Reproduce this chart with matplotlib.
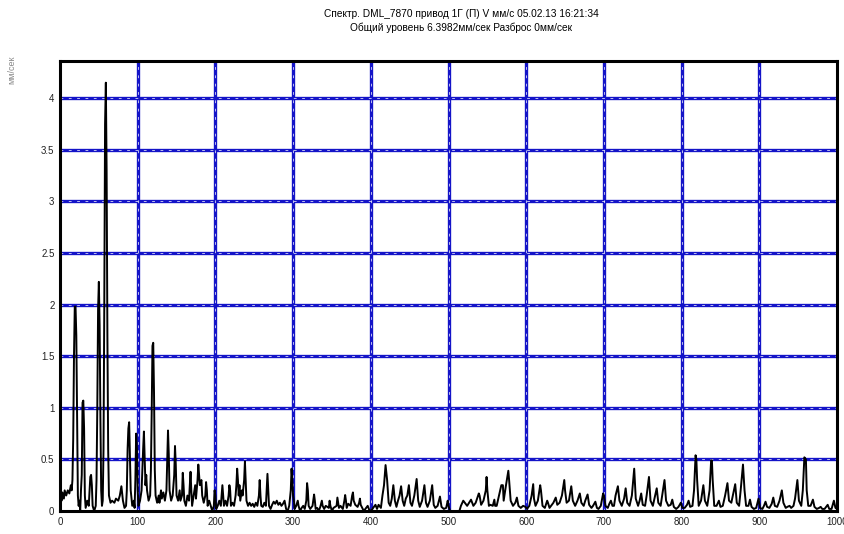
import matplotlib.pyplot as plt
import numpy as np

title_1 = "Спектр. DML_7870 привод 1Г (П) V мм/с 05.02.13 16:21:34"
title_2 = "Общий уровень 6.3982мм/сек Разброс 0мм/сек"
y_label = "мм/сек"

x_ticks = [0, 100, 200, 300, 400, 500, 600, 700, 800, 900, 1000]
y_ticks = [0, 0.5, 1, 1.5, 2, 2.5, 3, 3.5, 4]
y_tick_labels = ["0", "0.5", "1", "1.5", "2", "2.5", "3", "3.5", "4"]

# spectrum vertices (Hz, mm/s)
freq = [
    0, 1, 2, 3, 5, 6, 8, 10, 12, 14, 15, 16, 17, 18, 19, 20, 21, 22, 23, 24, 25, 26, 27, 28, 29, 30,
    31, 32, 33, 35, 37, 38, 39, 40, 41, 42, 44, 46, 47, 48, 49, 50, 51, 52, 53, 54, 55, 56, 57, 58,
    59, 60, 61, 62, 63, 65, 67, 70, 72, 75, 77, 79, 81, 83, 85, 86, 87, 88, 89, 90, 91, 93, 95, 96,
    97, 98, 99, 100, 101, 103, 105, 106, 107, 108, 109, 110, 111, 112, 114, 116, 117, 118, 119, 120,
    121, 122, 123, 125, 127, 128, 130, 131, 133, 135, 137, 138, 139, 140, 141, 143, 145, 147, 148,
    149, 150, 152, 154, 155, 157, 158, 159, 160, 162, 164, 166, 167, 168, 169, 170, 172, 174, 175,
    177, 178, 179, 180, 182, 183, 185, 187, 188, 189, 190, 192, 194, 196, 198,
    199, 200, 201, 203, 205, 207, 208, 209, 210, 211, 213, 215, 217, 218, 219, 220, 222, 224, 226,
    227, 228, 229, 230, 231, 232, 234, 235, 237, 238, 239, 240, 242, 244, 246, 248, 250, 252, 254,
    256, 257, 258, 259, 261, 263, 265, 266, 267, 268, 269, 271, 273, 275, 277, 279, 281, 283, 285,
    287, 289, 291, 293, 295, 297, 298,
    299, 300, 301, 302, 304, 306, 307, 309, 311, 313, 315, 317, 318, 319, 320, 322, 325, 327, 328,
    329, 331, 333, 335, 337, 338, 340, 342, 346, 347, 348, 350, 352, 356, 357, 358, 359, 361, 364,
    366, 367, 368, 369, 371, 374, 376, 377, 378, 380, 383, 385, 386, 387, 389, 391, 393, 396, 398,
    400, 403, 406, 408, 410, 413, 415, 417, 419, 421, 423, 425, 427, 429, 431, 433, 435, 437, 439,
    441, 443, 445, 447, 449, 451, 453, 456, 459, 461, 463, 466, 469, 471, 473, 476, 479, 481, 483,
    486, 489, 491, 494, 497, 499, 500, 502, 514, 516, 519, 524, 529, 532, 535, 539, 540, 542, 545,
    548, 549, 550, 552, 554, 557, 559, 560, 562, 565, 568, 570, 571, 574, 577, 578, 580, 583, 586,
    588, 590, 593, 596, 599,
    601, 604, 607, 609, 610, 612, 615, 618, 619, 621, 624, 627, 628, 630, 632, 635, 638, 640, 643,
    646, 649, 650, 652, 655, 658, 660, 663, 666, 669, 671, 674, 676, 679, 681, 684, 686, 689, 691,
    693, 696, 699, 700, 702, 705, 707, 709, 711, 713, 715, 718, 720, 723, 726, 728, 730, 733, 736,
    739, 741, 744, 746, 748, 750, 753, 755, 758, 760, 763, 765, 768, 770, 773, 775, 778, 780, 783,
    786, 788, 790, 793, 796, 799,
    801, 804, 807, 809, 811, 814, 816, 818, 819, 820, 822, 825, 828, 830, 833, 836, 838, 839, 840,
    842, 845, 848, 850, 853, 856, 859, 861, 864, 866, 869, 871, 874, 876, 879, 881, 883, 886, 888,
    890, 893, 896, 899, 901, 904, 906, 908, 910, 913, 916, 918, 920, 923, 926, 929, 931, 934, 936,
    939, 941, 944, 946, 949, 951, 954, 956, 958, 960, 961, 963, 966, 969, 971, 974, 977, 979, 981,
    984, 986, 988, 990, 993, 996, 998, 1000,
]
amp = [
    0.0, 0.15, 0.1, 0.18, 0.12, 0.2, 0.15, 0.2, 0.17, 0.25, 0.2, 0.3, 0.7, 1.5, 1.98, 1.98, 1.7, 0.9,
    0.15, 0.05, 0.1, 0.0, 0.2, 0.35, 1.05, 1.07,
    0.8, 0.15, 0.03, 0.1, 0.05, 0.2, 0.33, 0.35, 0.25, 0.05, 0.0, 0.05, 0.3, 1.0, 1.95, 2.22, 1.8,
    0.9, 0.2, 0.05, 0.1, 0.6, 2.0, 3.75,
    4.15, 3.3, 1.7, 0.6, 0.15, 0.08, 0.1, 0.08, 0.12, 0.1, 0.15, 0.24, 0.1, 0.03, 0.05, 0.2, 0.6,
    0.8, 0.86, 0.55, 0.2, 0.05, 0.1, 0.03,
    0.3, 0.75, 0.6, 0.2, 0.05, 0.1, 0.2, 0.4, 0.6, 0.77, 0.5, 0.25, 0.35, 0.2, 0.1, 0.15, 0.4, 0.95,
    1.6, 1.63,
    1.15, 0.4, 0.15, 0.08, 0.15, 0.08, 0.2, 0.12, 0.18, 0.1, 0.2, 0.5, 0.78, 0.55, 0.2, 0.1, 0.15,
    0.35, 0.63,
    0.45, 0.15, 0.1, 0.2, 0.1, 0.15, 0.37, 0.25, 0.1, 0.05, 0.15, 0.1, 0.25, 0.38, 0.2, 0.05, 0.15,
    0.25, 0.12,
    0.3, 0.45, 0.35, 0.25, 0.3, 0.15, 0.08, 0.15, 0.28, 0.2, 0.05, 0.1, 0.05, 0.0, 0.05,
    0.2, 0.15, 0.02, 0.05, 0.1, 0.05, 0.15, 0.25, 0.15, 0.05, 0.1, 0.05, 0.15, 0.25, 0.2, 0.05, 0.08,
    0.05, 0.15,
    0.25, 0.41, 0.3, 0.15, 0.25, 0.1, 0.2, 0.15, 0.3, 0.48, 0.3, 0.1, 0.05, 0.08, 0.05, 0.07, 0.04,
    0.08, 0.05,
    0.15, 0.3, 0.15, 0.05, 0.04, 0.08, 0.05, 0.2, 0.36, 0.2, 0.05, 0.02, 0.06, 0.09, 0.07, 0.1, 0.06,
    0.08, 0.05,
    0.07, 0.1, 0.02, 0.0, 0.05, 0.2, 0.41,
    0.3, 0.15, 0.1, 0.02, 0.05, 0.1, 0.05, 0.0, 0.03, 0.05, 0.02, 0.1, 0.27, 0.2, 0.05, 0.02, 0.05,
    0.16, 0.1,
    0.02, 0.03, 0.0, 0.04, 0.1, 0.05, 0.02, 0.05, 0.03, 0.1, 0.05, 0.0, 0.03, 0.05, 0.13, 0.08, 0.03,
    0.05, 0.02,
    0.1, 0.155, 0.1, 0.03, 0.07, 0.05, 0.15, 0.18, 0.1, 0.06, 0.04, 0.08, 0.12, 0.06, 0.03, 0.0, 0.02,
    0.05, 0.01,
    0.0, 0.03, 0.06, 0.02, 0.06, 0.03, 0.15, 0.25, 0.445, 0.3, 0.08, 0.05, 0.12, 0.25, 0.1, 0.04, 0.1,
    0.15, 0.24,
    0.1, 0.05, 0.12, 0.15, 0.25, 0.08, 0.05, 0.15, 0.31, 0.1, 0.04, 0.1, 0.25, 0.08, 0.04, 0.1, 0.25,
    0.06, 0.03,
    0.05, 0.14, 0.04, 0.02, 0.03, 0.1, 0.05, 0.0, 0.0, 0.05, 0.1, 0.05, 0.11, 0.05, 0.08, 0.17, 0.15,
    0.06, 0.1,
    0.2, 0.33, 0.2, 0.05, 0.06, 0.05, 0.11, 0.05, 0.05, 0.15, 0.25, 0.25, 0.1, 0.25, 0.39, 0.3, 0.1,
    0.05, 0.08,
    0.13, 0.05, 0.03, 0.05, 0.04,
    0.02, 0.05, 0.15, 0.26, 0.12, 0.05, 0.1, 0.25, 0.2, 0.05, 0.03, 0.1, 0.08, 0.03, 0.05, 0.08, 0.13,
    0.06, 0.08,
    0.15, 0.3, 0.2, 0.08, 0.1, 0.24, 0.1, 0.05, 0.1, 0.17, 0.08, 0.05, 0.1, 0.16, 0.06, 0.03, 0.05,
    0.09, 0.03,
    0.02, 0.05, 0.17, 0.15, 0.05, 0.03, 0.07, 0.1, 0.05, 0.05, 0.15, 0.24, 0.1, 0.05, 0.12, 0.22, 0.08,
    0.05, 0.15,
    0.41, 0.12, 0.05, 0.1, 0.17, 0.06, 0.05, 0.15, 0.33, 0.1, 0.05, 0.12, 0.22, 0.08, 0.05, 0.15, 0.3,
    0.1, 0.05,
    0.06, 0.11, 0.04, 0.02, 0.04, 0.08,
    0.03, 0.03, 0.06, 0.1, 0.04, 0.05, 0.2, 0.54, 0.5, 0.3, 0.05, 0.1, 0.25, 0.1, 0.05, 0.2, 0.49,
    0.49, 0.3,
    0.05, 0.05, 0.1, 0.04, 0.05, 0.15, 0.27, 0.1, 0.08, 0.15, 0.26, 0.08, 0.05, 0.2, 0.45, 0.2, 0.05,
    0.05, 0.11,
    0.04, 0.02, 0.03, 0.12, 0.03, 0.02, 0.05, 0.09, 0.04, 0.03, 0.07, 0.13, 0.05, 0.04, 0.1, 0.2, 0.08,
    0.03, 0.04,
    0.05, 0.03, 0.05, 0.12, 0.3, 0.1, 0.05, 0.2, 0.52, 0.5, 0.2, 0.05, 0.05, 0.11, 0.04, 0.02, 0.03,
    0.04, 0.02,
    0.02, 0.04, 0.06, 0.02, 0.02, 0.1, 0.03, 0.02,
]

plt.rcParams['font.family'] = ['Liberation Sans', 'DejaVu Sans']

fig = plt.figure(figsize=(8.45, 5.34), dpi=100)
ax = fig.add_axes([60 / 845, 23 / 534, 777 / 845, 450 / 534])

grid_blue = '#1414c8'
for xv in x_ticks[1:-1]:
    ax.axvline(xv, color=grid_blue, lw=2.4, zorder=1)
    ax.axvline(xv, color='white', lw=0.5, ls=(0, (4, 8)), zorder=1.1)
for yv in y_ticks[1:]:
    ax.axhline(yv, color=grid_blue, lw=2.4, zorder=1)
    ax.axhline(yv, color='white', lw=0.5, ls=(0, (4, 8)), zorder=1.1)

ax.plot(freq, amp, color='black', lw=1.4, zorder=3)

ax.set_xlim(0, 1000)
ax.set_ylim(0, 4.36)
ax.set_xticks(x_ticks)
ax.set_yticks(y_ticks)
ax.set_yticklabels(y_tick_labels)
ax.tick_params(length=0, labelsize=7, colors='#222222', pad=4)
for s in ax.spines.values():
    s.set_linewidth(2.2)
    s.set_color('black')

fig.text(0.546, 0.974, title_1, ha='center', va='center', fontsize=7.3)
fig.text(0.546, 0.948, title_2, ha='center', va='center', fontsize=7.3)
fig.text(0.014, 0.87, y_label, rotation=90, ha='center', va='center', fontsize=6.5, color='#888888')

fig.savefig('out.png', dpi=100)
